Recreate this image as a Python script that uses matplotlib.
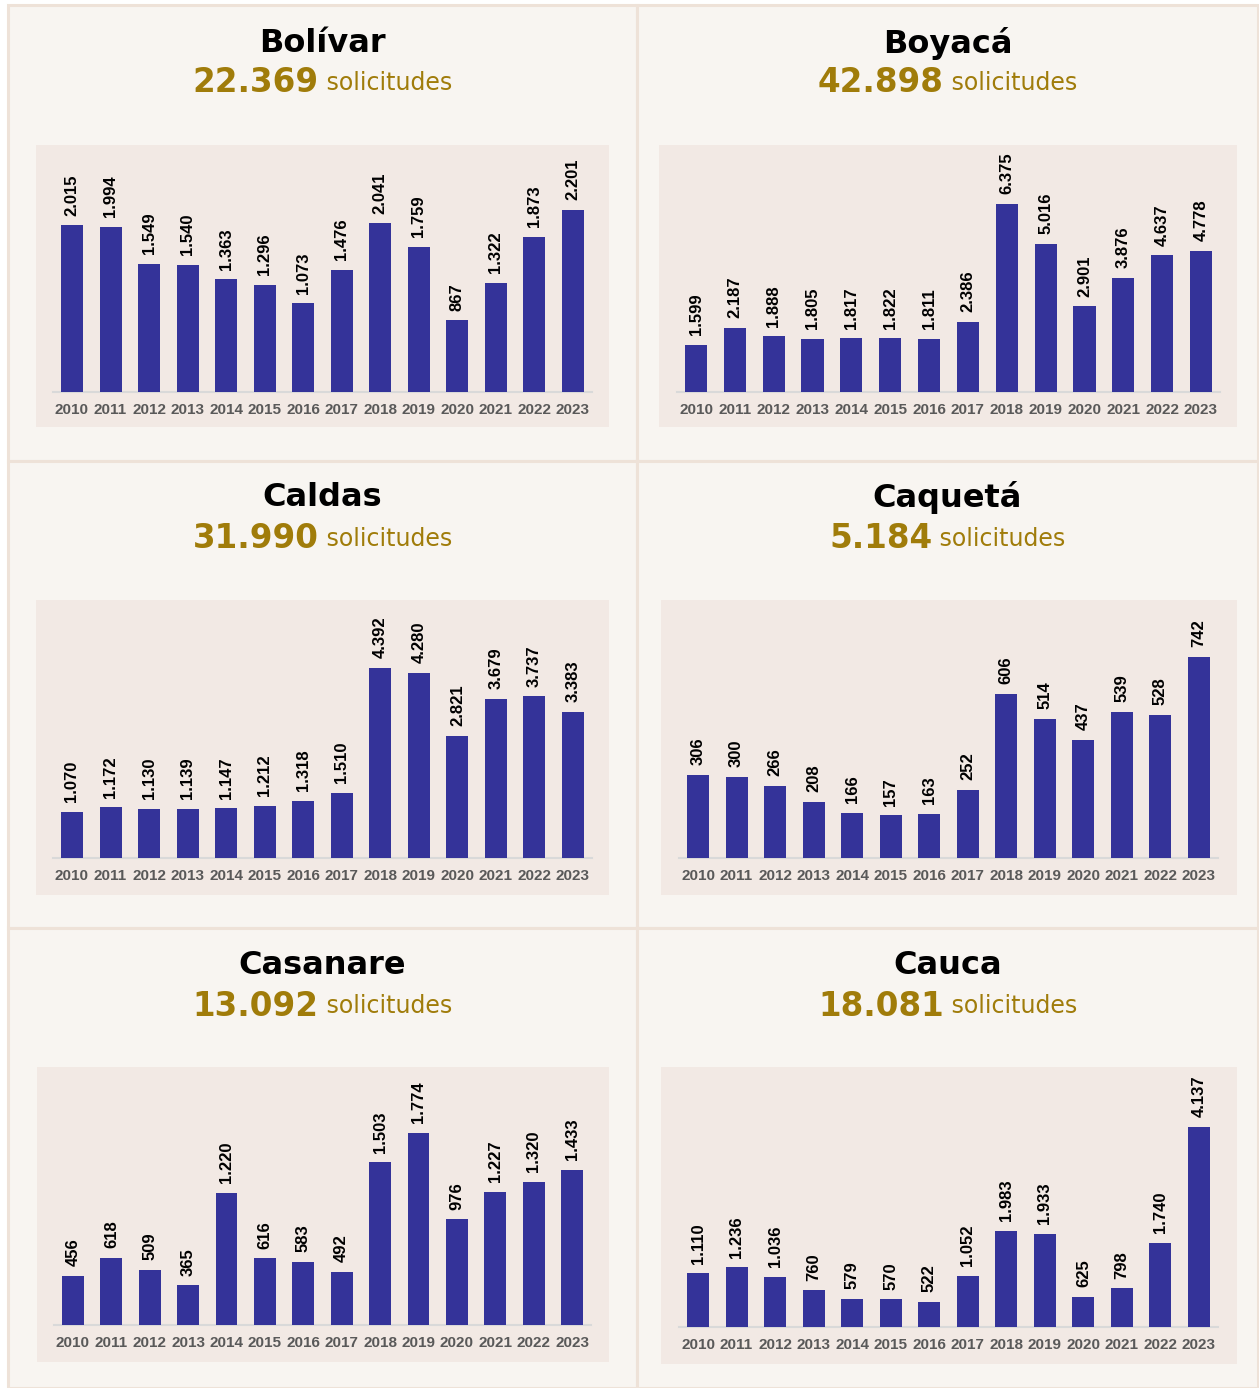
import matplotlib
matplotlib.use("Agg")
import matplotlib.pyplot as plt
from matplotlib.patches import Rectangle
from matplotlib import font_manager as fm

# -----------------------------
# Data
# -----------------------------

years = [str(y) for y in range(2010, 2024)]

departments = ["Bolívar", "Boyacá", "Caldas", "Caquetá", "Casanare", "Cauca"]
totals = [22369, 42898, 31990, 5184, 13092, 18081]

bolivar = [2015, 1994, 1549, 1540, 1363, 1296, 1073, 1476, 2041, 1759, 867, 1322, 1873, 2201]
boyaca = [1599, 2187, 1888, 1805, 1817, 1822, 1811, 2386, 6375, 5016, 2901, 3876, 4637, 4778]
caldas = [1070, 1172, 1130, 1139, 1147, 1212, 1318, 1510, 4392, 4280, 2821, 3679, 3737, 3383]
caqueta = [306, 300, 266, 208, 166, 157, 163, 252, 606, 514, 437, 539, 528, 742]
casanare = [456, 618, 509, 365, 1220, 616, 583, 492, 1503, 1774, 976, 1227, 1320, 1433]
cauca = [1110, 1236, 1036, 760, 579, 570, 522, 1052, 1983, 1933, 625, 798, 1740, 4137]

series = [bolivar, boyaca, caldas, caqueta, casanare, cauca]

# -----------------------------
# Layout (pixels)
# -----------------------------

W, H = 1259, 1388
col_x = [(8, 637), (637, 1258)]
row_y = [(5, 461), (461, 928), (928, 1388)]
boxes = [(36, 145, 609, 427), (659, 145, 1237, 427),
         (36, 600, 609, 895), (661, 600, 1237, 895),
         (37, 1067, 609, 1362), (661, 1067, 1237, 1364)]
centers = [(72, 573), (696, 1201), (72, 573), (698, 1199), (73, 572), (698, 1199)]
baselines = [392, 392, 858, 858, 1325, 1327]
max_tops = [210, 204, 668, 657, 1133, 1127]
title_y = [43, 498, 965]
sub_y = [83, 539, 1006]

PANEL_BG = "#f8f5f1"
BORDER = "#eee2d8"
BOX_BG = "#f2e9e4"
BAR = "#343399"
GOLD = "#a07c0a"

# Arial-like bold (avoid the Narrow variant)
arial_path = None
for f in fm.fontManager.ttflist:
    if f.fname.endswith("LiberationSans-Bold.ttf"):
        arial_path = f.fname
if arial_path:
    lab_font = fm.FontProperties(fname=arial_path)
else:
    lab_font = fm.FontProperties(family="DejaVu Sans", weight="bold")

def fx(x):
    return x / W

def fy(y):
    return 1 - y / H

fmt = lambda v: f"{v:,}".replace(",", ".")

fig = plt.figure(figsize=(W / 100, H / 100), dpi=100)
fig.patch.set_facecolor("white")

# panel backgrounds + borders
for r, (y0, y1) in enumerate(row_y):
    for c, (x0, x1) in enumerate(col_x):
        fig.patches.append(Rectangle((fx(x0), fy(y1)), fx(x1) - fx(x0), fy(y0) - fy(y1),
                                     transform=fig.transFigure, facecolor=PANEL_BG,
                                     edgecolor=BORDER, linewidth=2.2, zorder=-3))

renderer = fig.canvas.get_renderer()

for i, name in enumerate(departments):
    r, c = divmod(i, 2)
    x0, x1 = col_x[c]
    cx = (x0 + x1) / 2

    # chart box
    bx0, by0, bx1, by1 = boxes[i]
    fig.patches.append(Rectangle((fx(bx0), fy(by1)), fx(bx1) - fx(bx0), fy(by0) - fy(by1),
                                 transform=fig.transFigure, facecolor=BOX_BG,
                                 edgecolor="none", zorder=-2))

    # title
    fig.text(fx(cx), fy(title_y[r]), name, ha="center", va="center",
             fontsize=23, fontweight="bold", family="DejaVu Sans", color="black")

    # subtitle: bold number + "solicitudes", centered as a whole
    t1 = fig.text(0, fy(sub_y[r]), fmt(totals[i]), ha="left", va="center",
                  fontsize=23.5, fontweight="bold", family="DejaVu Sans", color=GOLD)
    t2 = fig.text(0, fy(sub_y[r]), " solicitudes", ha="left", va="center",
                  fontsize=17, family="DejaVu Sans", color=GOLD)
    w1 = t1.get_window_extent(renderer).width
    w2 = t2.get_window_extent(renderer).width
    start = cx - (w1 + w2) / 2
    t1.set_x(fx(start))
    t2.set_x(fx(start + w1))

    # bar axes
    c0, c1 = centers[i]
    s = (c1 - c0) / 13
    ax_l, ax_r = c0 - 0.5 * s, c1 + 0.5 * s
    ax = fig.add_axes([fx(ax_l), fy(baselines[i]), fx(ax_r) - fx(ax_l),
                       fy(max_tops[i]) - fy(baselines[i])])
    ax.set_facecolor("none")
    vals = series[i]
    xs = range(len(years))
    ax.bar(xs, vals, width=0.57, color=BAR, zorder=3)
    ax.set_xlim(-0.5, len(years) - 0.5)
    ax.set_ylim(0, max(vals))
    for xi, v in zip(xs, vals):
        ax.annotate(fmt(v), (xi, v), xytext=(0, 7), textcoords="offset points",
                    rotation=90, ha="center", va="bottom", fontproperties=lab_font,
                    fontsize=12, color="black", annotation_clip=False)
    ax.set_xticks(list(xs))
    ax.set_xticklabels(years, fontproperties=lab_font, fontsize=11, color="#595959")
    ax.tick_params(axis="x", length=0, pad=8)
    ax.set_yticks([])
    for sp in ["top", "right", "left"]:
        ax.spines[sp].set_visible(False)
    ax.spines["bottom"].set_color("#d9d9d9")
    ax.spines["bottom"].set_linewidth(1.5)

fig.savefig("out.png", dpi=100, facecolor=fig.get_facecolor())
